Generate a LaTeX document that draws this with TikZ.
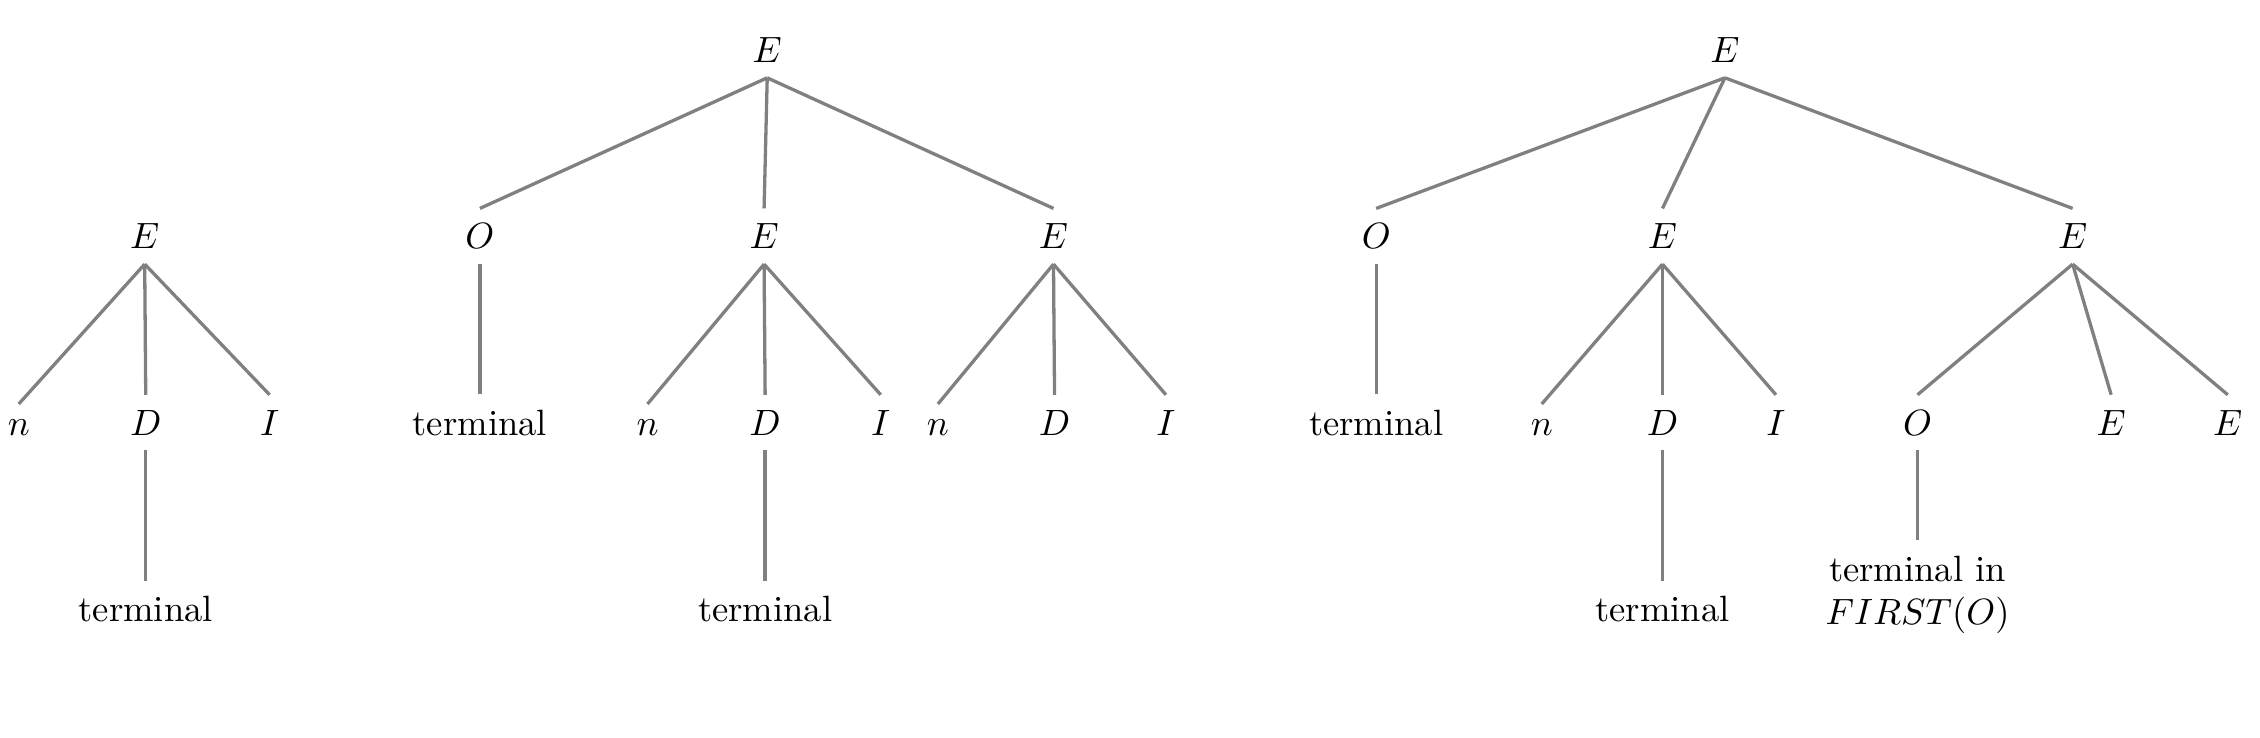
\documentclass[tikz,border=0pt]{standalone}
\usepackage{amsmath}

\begin{document}
\begin{tikzpicture}
\tikzstyle{every node}+=[inner sep=4pt, anchor=base]
\tikzstyle{edge}=[draw=gray, line width=0.9pt]
\useasboundingbox (0,0) rectangle (21.71,-7.08);
% first tree
\node (e1) at (1.39,-2.39) {$E$};
\node (n1) at (0.18,-4.18) {$n$};
\node (d1) at (1.40,-4.18) {$D$};
\node (i1) at (2.59,-4.18) {$I$};
\node (t1) at (1.40,-5.97) {terminal};
\foreach \c in {n1,d1,i1}
  \draw[edge] (e1.south) -- (\c.north);
\draw[edge] (d1.south) -- (t1.north);
% second tree
\node (e2) at (7.37,-0.60) {$E$};
\node (o2) at (4.61,-2.39) {$O$};
\node (e2a) at (7.34,-2.39) {$E$};
\node (e2b) at (10.12,-2.39) {$E$};
\node (t2) at (4.61,-4.18) {terminal};
\node (n2a) at (6.22,-4.18) {$n$};
\node (d2a) at (7.35,-4.18) {$D$};
\node (i2a) at (8.46,-4.18) {$I$};
\node (n2b) at (9.01,-4.18) {$n$};
\node (d2b) at (10.13,-4.18) {$D$};
\node (i2b) at (11.20,-4.18) {$I$};
\node (t2a) at (7.35,-5.97) {terminal};
\foreach \c in {o2,e2a,e2b}
  \draw[edge] (e2.south) -- (\c.north);
\draw[edge] (o2.south) -- (t2.north);
\foreach \c in {n2a,d2a,i2a}
  \draw[edge] (e2a.south) -- (\c.north);
\foreach \c in {n2b,d2b,i2b}
  \draw[edge] (e2b.south) -- (\c.north);
\draw[edge] (d2a.south) -- (t2a.north);
% third tree
\node (e3) at (16.57,-0.60) {$E$};
\node (o3) at (13.22,-2.39) {$O$};
\node (e3a) at (15.97,-2.39) {$E$};
\node (e3b) at (19.91,-2.39) {$E$};
\node (t3) at (13.22,-4.18) {terminal};
\node (n3) at (14.81,-4.18) {$n$};
\node (d3) at (15.97,-4.18) {$D$};
\node (i3) at (17.06,-4.18) {$I$};
\node (o3b) at (18.42,-4.18) {$O$};
\node (e3c) at (20.28,-4.18) {$E$};
\node (e3d) at (21.40,-4.18) {$E$};
\node (t3a) at (15.97,-5.97) {terminal};
\node[anchor=north, align=center] (f3) at (18.42,-5.19) {terminal in\\$FIRST(O)$};
\foreach \c in {o3,e3a,e3b}
  \draw[edge] (e3.south) -- (\c.north);
\draw[edge] (o3.south) -- (t3.north);
\foreach \c in {n3,d3,i3}
  \draw[edge] (e3a.south) -- (\c.north);
\draw[edge] (d3.south) -- (t3a.north);
\foreach \c in {o3b,e3c,e3d}
  \draw[edge] (e3b.south) -- (\c.north);
\draw[edge] (o3b.south) -- (f3.north);
\end{tikzpicture}
\end{document}
